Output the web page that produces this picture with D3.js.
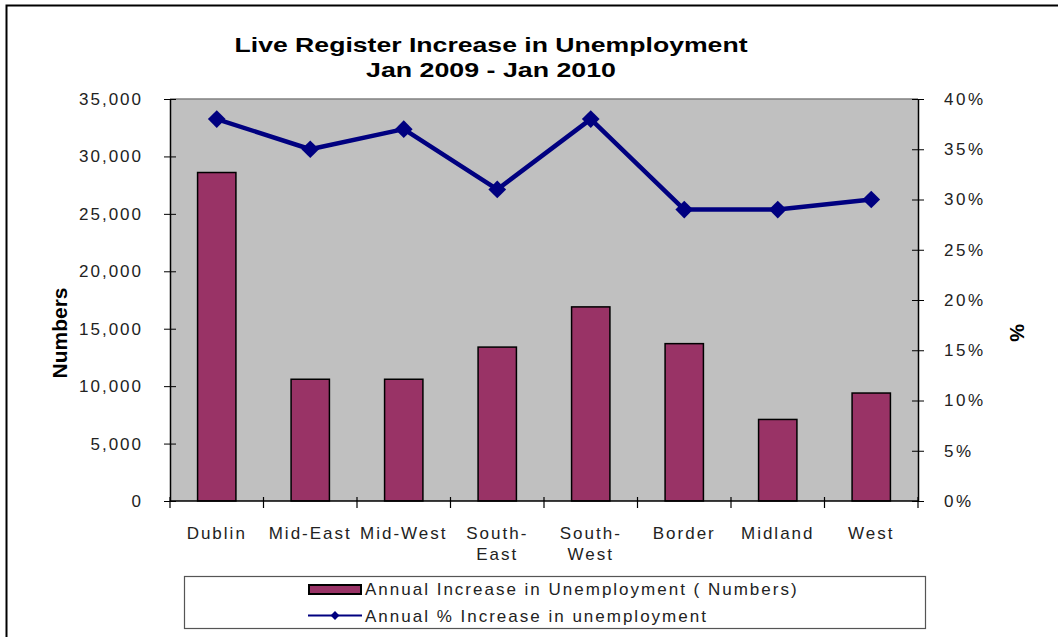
<!DOCTYPE html>
<html><head><meta charset="utf-8">
<script src="https://cdn.jsdelivr.net/npm/d3@7"></script>
<style>body{margin:0;background:#fff;}svg{display:block;font-family:"Liberation Sans",Arial,sans-serif;}</style>
</head><body>
<script>
const categories = ["Dublin","Mid-East","Mid-West","South-East","South-West","Border","Midland","West"];
const categoryLabels = [["Dublin"],["Mid-East"],["Mid-West"],["South-","East"],["South-","West"],["Border"],["Midland"],["West"]];
const numbers = [28600, 10600, 10600, 13400, 16900, 13700, 7100, 9400];
const percents = [0.38, 0.35, 0.37, 0.31, 0.38, 0.29, 0.29, 0.30];
const leftTicks = [0,5000,10000,15000,20000,25000,30000,35000];
const rightTicks = [0,0.05,0.10,0.15,0.20,0.25,0.30,0.35,0.40];
const seriesNames = ["Annual Increase in Unemployment ( Numbers)","Annual % Increase in unemployment"];

const W=1058,H=637;
const svg=d3.select("body").append("svg").attr("width",W).attr("height",H);
svg.append("rect").attr("x",6.5).attr("y",5.5).attr("width",1060).attr("height",650)
  .attr("fill","#fff").attr("stroke","#000").attr("stroke-width",2);

const L=170,R=918,T=99,B=501;
const x=d3.scaleBand().domain(categories).range([L,R]).paddingInner(0).paddingOuter(0);
const yL=d3.scaleLinear().domain([0,35000]).range([B,T]);
const yR=d3.scaleLinear().domain([0,0.40]).range([B,T]);

svg.append("rect").attr("x",L).attr("y",T).attr("width",R-L).attr("height",B-T).attr("fill","#c0c0c0");
svg.append("line").attr("x1",L).attr("x2",R).attr("y1",T).attr("y2",T).attr("stroke","#808080").attr("stroke-width",1.5);

// bars
const bw=x.bandwidth()*0.41;
svg.selectAll("rect.bar").data(categories).enter().append("rect").attr("class","bar")
  .attr("x",d=>x(d)+x.bandwidth()/2-bw/2).attr("width",bw)
  .attr("y",(d,i)=>yL(numbers[i])).attr("height",(d,i)=>B-yL(numbers[i]))
  .attr("fill","#993366").attr("stroke","#000").attr("stroke-width",1.5);

// left axis
const gl=svg.append("g").attr("transform",`translate(${L},0)`)
  .call(d3.axisLeft(yL).tickValues(leftTicks).tickFormat(d3.format(",")).tickSizeInner(6).tickSizeOuter(0).tickPadding(21));
gl.selectAll(".tick line").attr("x1",6).attr("x2",-6);
gl.select(".domain").attr("stroke","#000").attr("stroke-width",1.5);
gl.selectAll("text").attr("font-size",17).attr("letter-spacing","2px").attr("fill","#222");

// right axis
const gr=svg.append("g").attr("transform",`translate(${R},0)`)
  .call(d3.axisRight(yR).tickValues(rightTicks).tickFormat(d3.format(".0%")).tickSizeInner(6).tickSizeOuter(0).tickPadding(20));
gr.selectAll(".tick line").attr("x1",-6).attr("x2",6);
gr.select(".domain").attr("stroke","#000").attr("stroke-width",1.5);
gr.selectAll("text").attr("font-size",17).attr("letter-spacing","2.5px").attr("fill","#222");

// x axis
svg.append("line").attr("x1",L).attr("x2",R).attr("y1",B).attr("y2",B).attr("stroke","#000").attr("stroke-width",1.5);
const bounds=categories.map(c=>x(c)).concat([R]);
svg.selectAll("line.xt").data(bounds).enter().append("line").attr("class","xt")
  .attr("x1",d=>d).attr("x2",d=>d).attr("y1",B-4).attr("y2",B+7).attr("stroke","#000").attr("stroke-width",1.2);
const xl=svg.selectAll("text.xl").data(categories).enter().append("text").attr("class","xl")
  .attr("y",539).attr("text-anchor","middle").attr("font-size",17).attr("letter-spacing","2px").attr("fill","#222");
xl.each(function(d,i){
  const t=d3.select(this);
  categoryLabels[i].forEach((s,j)=>t.append("tspan").attr("x",x(d)+x.bandwidth()/2).attr("dy",j?21:0).text(s));
});

// line series
const line=d3.line().x((d,i)=>x(categories[i])+x.bandwidth()/2).y(d=>yR(d));
svg.append("path").datum(percents).attr("d",line).attr("fill","none").attr("stroke","#000080").attr("stroke-width",4.5).attr("stroke-linejoin","round");
const sym=d3.symbol().type(d3.symbolDiamond2).size(200);
svg.selectAll("path.mk").data(percents).enter().append("path").attr("class","mk")
  .attr("d",sym).attr("transform",(d,i)=>`translate(${x(categories[i])+x.bandwidth()/2},${yR(d)})`).attr("fill","#000080");

// titles
svg.append("text").attr("x",491).attr("y",52).attr("text-anchor","middle").attr("font-weight","bold").attr("font-size",21)
  .attr("textLength",513).attr("lengthAdjust","spacingAndGlyphs").text("Live Register Increase in Unemployment");
svg.append("text").attr("x",491).attr("y",77).attr("text-anchor","middle").attr("font-weight","bold").attr("font-size",21)
  .attr("textLength",250).attr("lengthAdjust","spacingAndGlyphs").text("Jan 2009 - Jan 2010");
svg.append("text").attr("transform","translate(67,333) rotate(-90)").attr("text-anchor","middle").attr("font-weight","bold")
  .attr("font-size",21).text("Numbers");
svg.append("text").attr("transform","translate(1010,333) rotate(90)").attr("text-anchor","middle").attr("font-weight","bold")
  .attr("font-size",20).text("%");

// legend
svg.append("rect").attr("x",184.5).attr("y",576.5).attr("width",741).attr("height",52).attr("fill","#fff").attr("stroke","#555").attr("stroke-width",1.2);
svg.append("rect").attr("x",309).attr("y",585).attr("width",52).attr("height",9).attr("fill","#993366").attr("stroke","#000").attr("stroke-width",2);
svg.append("text").attr("x",365).attr("y",595).attr("font-size",17).attr("letter-spacing","2px").attr("fill","#222").text(seriesNames[0]);
svg.append("line").attr("x1",308).attr("x2",362).attr("y1",615.5).attr("y2",615.5).attr("stroke","#000080").attr("stroke-width",2);
svg.append("path").attr("d",d3.symbol().type(d3.symbolDiamond2).size(50)()).attr("transform","translate(335,615.5)").attr("fill","#000080");
svg.append("text").attr("x",365).attr("y",622).attr("font-size",17).attr("letter-spacing","2px").attr("fill","#222").text(seriesNames[1]);
</script>
</body></html>
